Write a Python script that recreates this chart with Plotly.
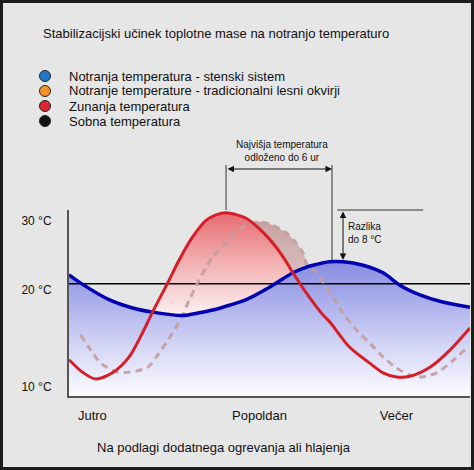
import plotly.graph_objects as go

# Hours across the day (0-24) and temperatures in °C
outside_h = [0.0, 0.8, 1.6, 2.6, 3.6, 4.4, 5.0, 5.9, 6.6, 7.4, 8.2, 8.8, 9.4, 10.6, 11.6,
             12.4, 13.0, 13.4, 14.2, 15.2, 15.6, 16.8, 18.0, 18.8, 19.6, 20.4, 21.6, 22.8, 24.0]
outside_t = [9.9, 8.1, 7.1, 8.0, 10.3, 13.8, 16.8, 21.0, 24.4, 27.7, 30.1, 30.9, 31.2, 30.4, 28.4,
             26.2, 24.1, 22.5, 19.6, 16.4, 15.4, 11.7, 9.4, 8.0, 7.4, 7.5, 8.8, 11.3, 14.5]

wall_h = [0.0, 0.7, 2.4, 3.8, 5.0, 6.8, 7.8, 8.6, 9.6, 10.6, 12.0, 13.4, 14.3, 14.6, 15.6,
          16.4, 17.6, 18.8, 19.8, 21.0, 22.3, 24.0]
wall_t = [22.2, 21.0, 18.6, 17.4, 16.8, 16.3, 16.7, 17.1, 17.8, 18.6, 20.4, 22.5, 23.4, 23.6, 24.1,
          24.1, 23.6, 22.5, 20.7, 19.3, 18.3, 17.5]

frame_h = [0.7, 1.3, 1.9, 2.9, 3.6, 4.7, 5.4, 6.2, 6.8, 7.0, 7.8, 8.6, 9.4, 10.0, 10.6, 11.4,
           12.2, 13.0, 13.6, 14.0, 14.3, 14.8, 15.4, 16.4, 17.2, 18.0, 18.8, 19.6, 20.4, 21.1,
           22.0, 22.9, 23.8]
frame_t = [13.5, 11.3, 9.4, 8.1, 8.1, 8.8, 10.9, 13.8, 16.3, 17.5, 21.5, 24.8, 26.8, 28.4, 29.4, 29.9,
           29.4, 28.3, 26.8, 25.4, 23.4, 22.6, 20.4, 16.7, 14.2, 12.3, 10.3, 8.7, 7.7, 7.4,
           8.0, 9.6, 11.6]

room_t = 20.9

tick_pos = [30, 20, 6]
tick_text = ["30 °C", "20 °C", "10 °C"]
period_pos = [1.4, 11.4, 19.6]
period_text = ["Jutro", "Popoldan", "Večer"]

legend_names = [
    "Notranja temperatura - stenski sistem",
    "Notranje temperature - tradicionalni lesni okvirji",
    "Zunanja temperatura",
    "Sobna temperatura",
]
legend_colors = ["#1f78c8", "#f39325", "#dc2530", "#111111"]

W, H = 474, 470
L, R, T, B = 69, 4, 210, 74
PW, PH = W - L - R, H - T - B
Y_MIN, Y_MAX = 4.64, 31.6
FONT = "Liberation Sans, Arial, sans-serif"


def px_x(px):
    return (px - L) / PW


def px_y(py):
    return (H - B - py) / PH


def between(hs, ts, lo, hi):
    # points of a series between two crossing hours (inclusive)
    pts = [(h, t) for h, t in zip(hs, ts) if lo <= h <= hi]
    return [p[0] for p in pts], [p[1] for p in pts]


fig = go.Figure()
smooth = dict(shape="spline", smoothing=0.8)

# blue area under the wall-system curve
fig.add_trace(go.Scatter(x=[0, 24], y=[Y_MIN, Y_MIN], mode="lines",
                         line=dict(width=0), showlegend=False, hoverinfo="skip"))
fig.add_trace(go.Scatter(
    x=wall_h, y=wall_t, mode="lines", line=dict(width=0, **smooth), fill="tonexty",
    fillgradient=dict(type="vertical", start=Y_MIN, stop=24.1,
                      colorscale=[[0, "rgb(252,252,255)"], [0.35, "rgb(214,216,246)"],
                                  [0.7, "rgb(172,175,236)"], [1, "rgb(135,140,225)"]]),
    showlegend=False, hoverinfo="skip"))

# traditional frame surplus above the wall curve
bh, bt = between(wall_h, wall_t, 6.8, 14.3)
fh, ft = between(frame_h, frame_t, 6.8, 14.3)
fig.add_trace(go.Scatter(x=bh, y=bt, mode="lines", line=dict(width=0, **smooth),
                         showlegend=False, hoverinfo="skip"))
fig.add_trace(go.Scatter(
    x=fh, y=ft, mode="lines", line=dict(width=0, **smooth), fill="tonexty",
    fillgradient=dict(type="vertical", start=20, stop=30,
                      colorscale=[[0, "rgb(222,198,202)"], [1, "rgb(200,162,162)"]]),
    showlegend=False, hoverinfo="skip"))

# outside surplus above the wall curve
bh, bt = between(wall_h, wall_t, 5.0, 13.4)
oh, ot = between(outside_h, outside_t, 5.0, 13.4)
fig.add_trace(go.Scatter(x=bh, y=bt, mode="lines", line=dict(width=0, **smooth),
                         showlegend=False, hoverinfo="skip"))
fig.add_trace(go.Scatter(
    x=oh, y=ot, mode="lines", line=dict(width=0, **smooth), fill="tonexty",
    fillgradient=dict(type="vertical", start=16.3, stop=31.2,
                      colorscale=[[0, "rgb(252,240,240)"], [0.5, "rgb(243,178,180)"],
                                  [1, "rgb(230,108,114)"]]),
    showlegend=False, hoverinfo="skip"))

# lines
fig.add_trace(go.Scatter(x=[0, 24], y=[room_t, room_t], mode="lines",
                         line=dict(color="black", width=1.5), showlegend=False))
fig.add_trace(go.Scatter(x=frame_h, y=frame_t, mode="lines",
                         line=dict(color="rgba(196,156,158,0.9)", width=3, dash="7px,5px", **smooth),
                         showlegend=False))
fig.add_trace(go.Scatter(x=wall_h, y=wall_t, mode="lines",
                         line=dict(color="rgb(0,0,178)", width=3.5, **smooth), showlegend=False))
fig.add_trace(go.Scatter(x=outside_h, y=outside_t, mode="lines",
                         line=dict(color="rgb(214,30,40)", width=3, **smooth), showlegend=False))

annotations = [
    dict(text="Stabilizacijski učinek toplotne mase na notranjo temperaturo",
         x=px_x(41), y=px_y(33), xanchor="left", yanchor="middle", font=dict(size=13)),
    dict(text="Na podlagi dodatnega ogrevanja ali hlajenja",
         x=px_x(224), y=px_y(447), xanchor="center", yanchor="middle", font=dict(size=13)),
    dict(text="Najvišja temperatura<br>odloženo do 6 ur", xref="x", x=12.75,
         y=px_y(151), xanchor="center", yanchor="middle", font=dict(size=10)),
    dict(text="Razlika<br>do 8 °C", xref="x", x=16.55, y=px_y(233),
         xanchor="left", yanchor="middle", align="left", font=dict(size=10)),
    # double arrows
    dict(text="", xref="x", x=15.74, y=px_y(169), ax=-106, ay=0, showarrow=True,
         arrowside="end+start", arrowhead=2, startarrowhead=2, arrowsize=1.3,
         arrowwidth=1, arrowcolor="#111"),
    dict(text="", xref="x", yref="y", x=16.4, y=24.35, ax=0, ay=-50, showarrow=True,
         arrowside="end+start", arrowhead=2, startarrowhead=2, arrowsize=1.3,
         arrowwidth=1, arrowcolor="#111"),
]
legend_y = [76, 91, 106, 121]
shapes = []
for name, color, ly in zip(legend_names, legend_colors, legend_y):
    annotations.append(dict(text=name, x=px_x(67), y=px_y(ly), xanchor="left",
                            yanchor="middle", font=dict(size=13)))
    shapes.append(dict(type="circle", xref="paper", yref="paper", xsizemode="pixel",
                       ysizemode="pixel", xanchor=px_x(45), yanchor=px_y(ly),
                       x0=-5.5, x1=5.5, y0=-5.5, y1=5.5, fillcolor=color,
                       line=dict(color="#222", width=1)))
for a in annotations:
    a.setdefault("xref", "paper")
    a.setdefault("yref", "paper")
    a.setdefault("showarrow", False)

shapes += [
    dict(type="line", xref="x", yref="paper", x0=9.4, x1=9.4, y0=1.0, y1=px_y(165),
         line=dict(color="#333", width=1)),
    dict(type="line", xref="x", yref="paper", x0=15.74, x1=15.74, y0=px_y(260), y1=px_y(165),
         line=dict(color="#333", width=1)),
    dict(type="line", xref="x", yref="paper", x0=16.05, x1=21.2, y0=1.0, y1=1.0,
         line=dict(color="#333", width=1)),
    # dark frame around the whole picture
    dict(type="rect", xref="paper", yref="paper", x0=px_x(0), x1=px_x(W), y0=px_y(H), y1=px_y(0),
         line=dict(color="#1c1c1c", width=6), layer="above"),
]

fig.update_layout(
    width=W, height=H,
    margin=dict(l=L, r=R, t=T, b=B),
    paper_bgcolor="#e6e6e6", plot_bgcolor="#e6e6e6",
    font=dict(family=FONT, color="#111", size=13),
    annotations=annotations, shapes=shapes,
    showlegend=False,
)
fig.update_xaxes(range=[0, 24], showgrid=False, zeroline=False, showline=True,
                 linecolor="#555", linewidth=2, tickvals=period_pos, ticktext=period_text,
                 ticks="", ticklabelstandoff=6, tickfont=dict(size=13))
fig.update_yaxes(range=[Y_MIN, Y_MAX], showgrid=False, zeroline=False, showline=True,
                 linecolor="#555", linewidth=2, tickvals=tick_pos, ticktext=tick_text,
                 ticks="", ticklabelstandoff=13, tickfont=dict(size=12))

# the page's default body margin would push the figure off the window
fig.write_html("out.html", config={"displayModeBar": False},
               post_script="document.body.style.margin = '0';")
